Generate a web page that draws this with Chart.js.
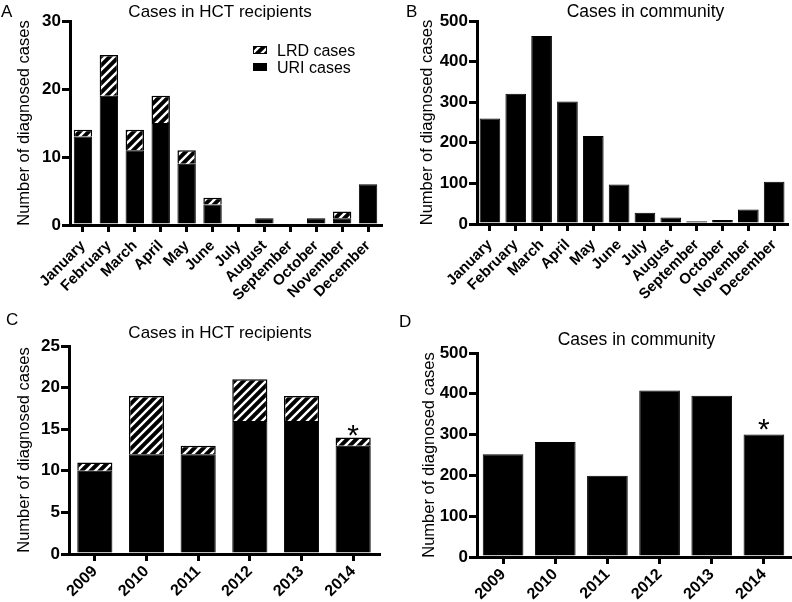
<!DOCTYPE html>
<html><head><meta charset="utf-8">
<script src="https://cdn.jsdelivr.net/npm/chart.js@4.4.1/dist/chart.umd.min.js"></script>
<style>
html,body{margin:0;padding:0;background:#fff;width:792px;height:602px;overflow:hidden;}
.p{position:absolute;}
</style></head><body>
<canvas id="cA" class="p" width="396" height="305" style="left:0;top:0"></canvas>
<canvas id="cB" class="p" width="396" height="305" style="left:396px;top:0"></canvas>
<canvas id="cC" class="p" width="396" height="297" style="left:0;top:305px"></canvas>
<canvas id="cD" class="p" width="396" height="297" style="left:396px;top:305px"></canvas>
<script>
// ---------- data ----------
const months = ['January','February','March','April','May','June','July','August','September','October','November','December'];
const hctMonthUri = [13, 19, 11, 15, 9, 3, 0, 1, 0, 1, 1, 6];
const hctMonthLrd = [1, 6, 3, 4, 2, 1, 0, 0, 0, 0, 1, 0];
const communityMonth = [260, 321, 463, 302, 217, 97, 28, 16, 7, 10, 36, 104];
const years = ['2009','2010','2011','2012','2013','2014'];
const hctYearUri = [10, 12, 12, 16, 16, 13];
const hctYearLrd = [1, 7, 1, 5, 3, 1];
const communityYear = [252, 282, 199, 408, 395, 300];
const yTicksA = [0, 10, 20, 30];
const yTicksB = [0, 100, 200, 300, 400, 500];
const yTicksC = [0, 5, 10, 15, 20, 25];
const yTicksD = [0, 100, 200, 300, 400, 500];
const seriesNames = ['URI cases', 'LRD cases'];

// ---------- styles ----------
const FAM = '"Liberation Sans", Arial, sans-serif';
Chart.defaults.font.family = FAM;
Chart.defaults.color = '#000';

function hatch() {
  const s = 9, c = document.createElement('canvas');
  c.width = s; c.height = s;
  const g = c.getContext('2d');
  g.fillStyle = '#000'; g.fillRect(0, 0, s, s);
  g.strokeStyle = '#fff'; g.lineWidth = 2.4; g.lineCap = 'square';
  g.beginPath();
  g.moveTo(0, s); g.lineTo(s, 0);
  g.moveTo(-s / 2, s / 2); g.lineTo(s / 2, -s / 2);
  g.moveTo(s / 2, s * 1.5); g.lineTo(s * 1.5, s / 2);
  g.stroke();
  return g.createPattern(c, 'repeat');
}

const deco = {
  id: 'deco',
  afterDraw(chart, args, o) {
    const ctx = chart.ctx;
    ctx.save();
    ctx.fillStyle = '#000';
    ctx.textBaseline = 'alphabetic';
    ctx.font = '17px ' + FAM;
    ctx.textAlign = 'left';
    ctx.fillText(o.letter, o.lx, o.ly);
    ctx.font = o.tsize + 'px ' + FAM;
    ctx.textAlign = 'center';
    ctx.fillText(o.title, o.tx, o.ty);
    if (o.legend) {
      const ds = chart.data.datasets;
      ctx.font = '16px ' + FAM;
      ctx.textAlign = 'left';
      [1, 0].forEach((di, k) => {
        const y = o.legend.y + k * 17;
        ctx.fillStyle = ds[di].backgroundColor;
        ctx.fillRect(o.legend.x, y - 4, 14, 8);
        ctx.strokeStyle = '#000'; ctx.lineWidth = 1;
        ctx.strokeRect(o.legend.x + 0.5, y - 3.5, 13, 7);
        ctx.fillStyle = '#000';
        ctx.fillText(ds[di].label, o.legend.x + 24, y + 6);
      });
    }
    if (o.star != null) {
      const metas = chart.getSortedVisibleDatasetMetas();
      const top = metas[metas.length - 1].data[o.star];
      ctx.font = '30px ' + FAM;
      ctx.textAlign = 'center';
      ctx.fillText('*', top.x, top.y + o.starOff);
    }
    ctx.restore();
  }
};

function makeChart(id, labels, datasets, yTicks, cfg) {
  const step = yTicks[1] - yTicks[0];
  return new Chart(document.getElementById(id), {
    type: 'bar',
    data: { labels, datasets },
    plugins: [deco],
    options: {
      responsive: false,
      animation: false,
      events: [],
      layout: { padding: { left: 0, top: cfg.pt, right: cfg.pr, bottom: 0 } },
      datasets: { bar: { categoryPercentage: 1, barPercentage: cfg.bp } },
      plugins: {
        legend: { display: false },
        tooltip: { enabled: false },
        deco: cfg.deco
      },
      scales: {
        x: {
          stacked: true,
          afterFit: s => { s.height = cfg.xh; },
          border: { display: true, width: 3, color: '#000' },
          grid: { display: true, drawOnChartArea: false, drawTicks: true, tickLength: 7, lineWidth: 3, color: '#000', offset: false },
          ticks: { font: { size: cfg.xfs, weight: 'bold' }, minRotation: 45, maxRotation: 45, autoSkip: false, padding: cfg.xpad }
        },
        y: {
          stacked: true,
          min: yTicks[0], max: yTicks[yTicks.length - 1],
          afterFit: s => { s.width = cfg.yw; },
          afterBuildTicks: s => { s.ticks = yTicks.map(v => ({ value: v })); },
          border: { display: true, width: 3, color: '#000' },
          grid: { display: true, drawOnChartArea: false, drawTicks: true, tickLength: 8, lineWidth: 3, color: '#000' },
          ticks: { font: { size: 17, weight: 'bold' }, stepSize: step, padding: 1 },
          title: { display: true, text: 'Number of diagnosed cases', font: { size: 16.5 }, padding: { top: cfg.ytp, bottom: 0 } }
        }
      }
    }
  });
}

const pat = hatch();
function stack(uri, lrd) {
  return [
    { label: seriesNames[0], data: uri, backgroundColor: '#000', borderColor: '#000', borderWidth: 1 },
    { label: seriesNames[1], data: lrd, backgroundColor: pat, borderColor: '#000', borderWidth: 1.5 }
  ];
}
function single(vals) {
  return [{ label: 'Cases', data: vals, backgroundColor: '#000', borderColor: '#000', borderWidth: 1 }];
}

makeChart('cA', months, stack(hctMonthUri, hctMonthLrd), yTicksA, {
  pt: 21, pr: 15, xh: 80, yw: 70, ytp: 15, bp: 0.71, xfs: 15, xpad: 5,
  deco: { letter: 'A', lx: 1, ly: 17, title: 'Cases in HCT recipients', tsize: 17, tx: 220, ty: 17, legend: { x: 253, y: 50 } }
});
makeChart('cB', months, single(communityMonth), yTicksB, {
  pt: 21, pr: 3, xh: 81, yw: 81, ytp: 22, bp: 0.8, xfs: 15, xpad: 5,
  deco: { letter: 'B', lx: 10, ly: 17, title: 'Cases in community', tsize: 17.5, tx: 249.5, ty: 17 }
});
makeChart('cC', years, stack(hctYearUri, hctYearLrd), yTicksC, {
  pt: 41, pr: 17, xh: 48, yw: 69, ytp: 15, bp: 0.68, xfs: 16, xpad: 1,
  deco: { letter: 'C', lx: 6, ly: 20, title: 'Cases in HCT recipients', tsize: 17, tx: 220, ty: 33, star: 5, starOff: 7 }
});
makeChart('cD', years, single(communityYear), yTicksD, {
  pt: 48, pr: 2, xh: 45, yw: 81, ytp: 23.5, bp: 0.78, xfs: 16, xpad: 1,
  deco: { letter: 'D', lx: 3, ly: 22, title: 'Cases in community', tsize: 17.5, tx: 240.5, ty: 40, star: 5, starOff: 4 }
});
</script>
</body></html>
